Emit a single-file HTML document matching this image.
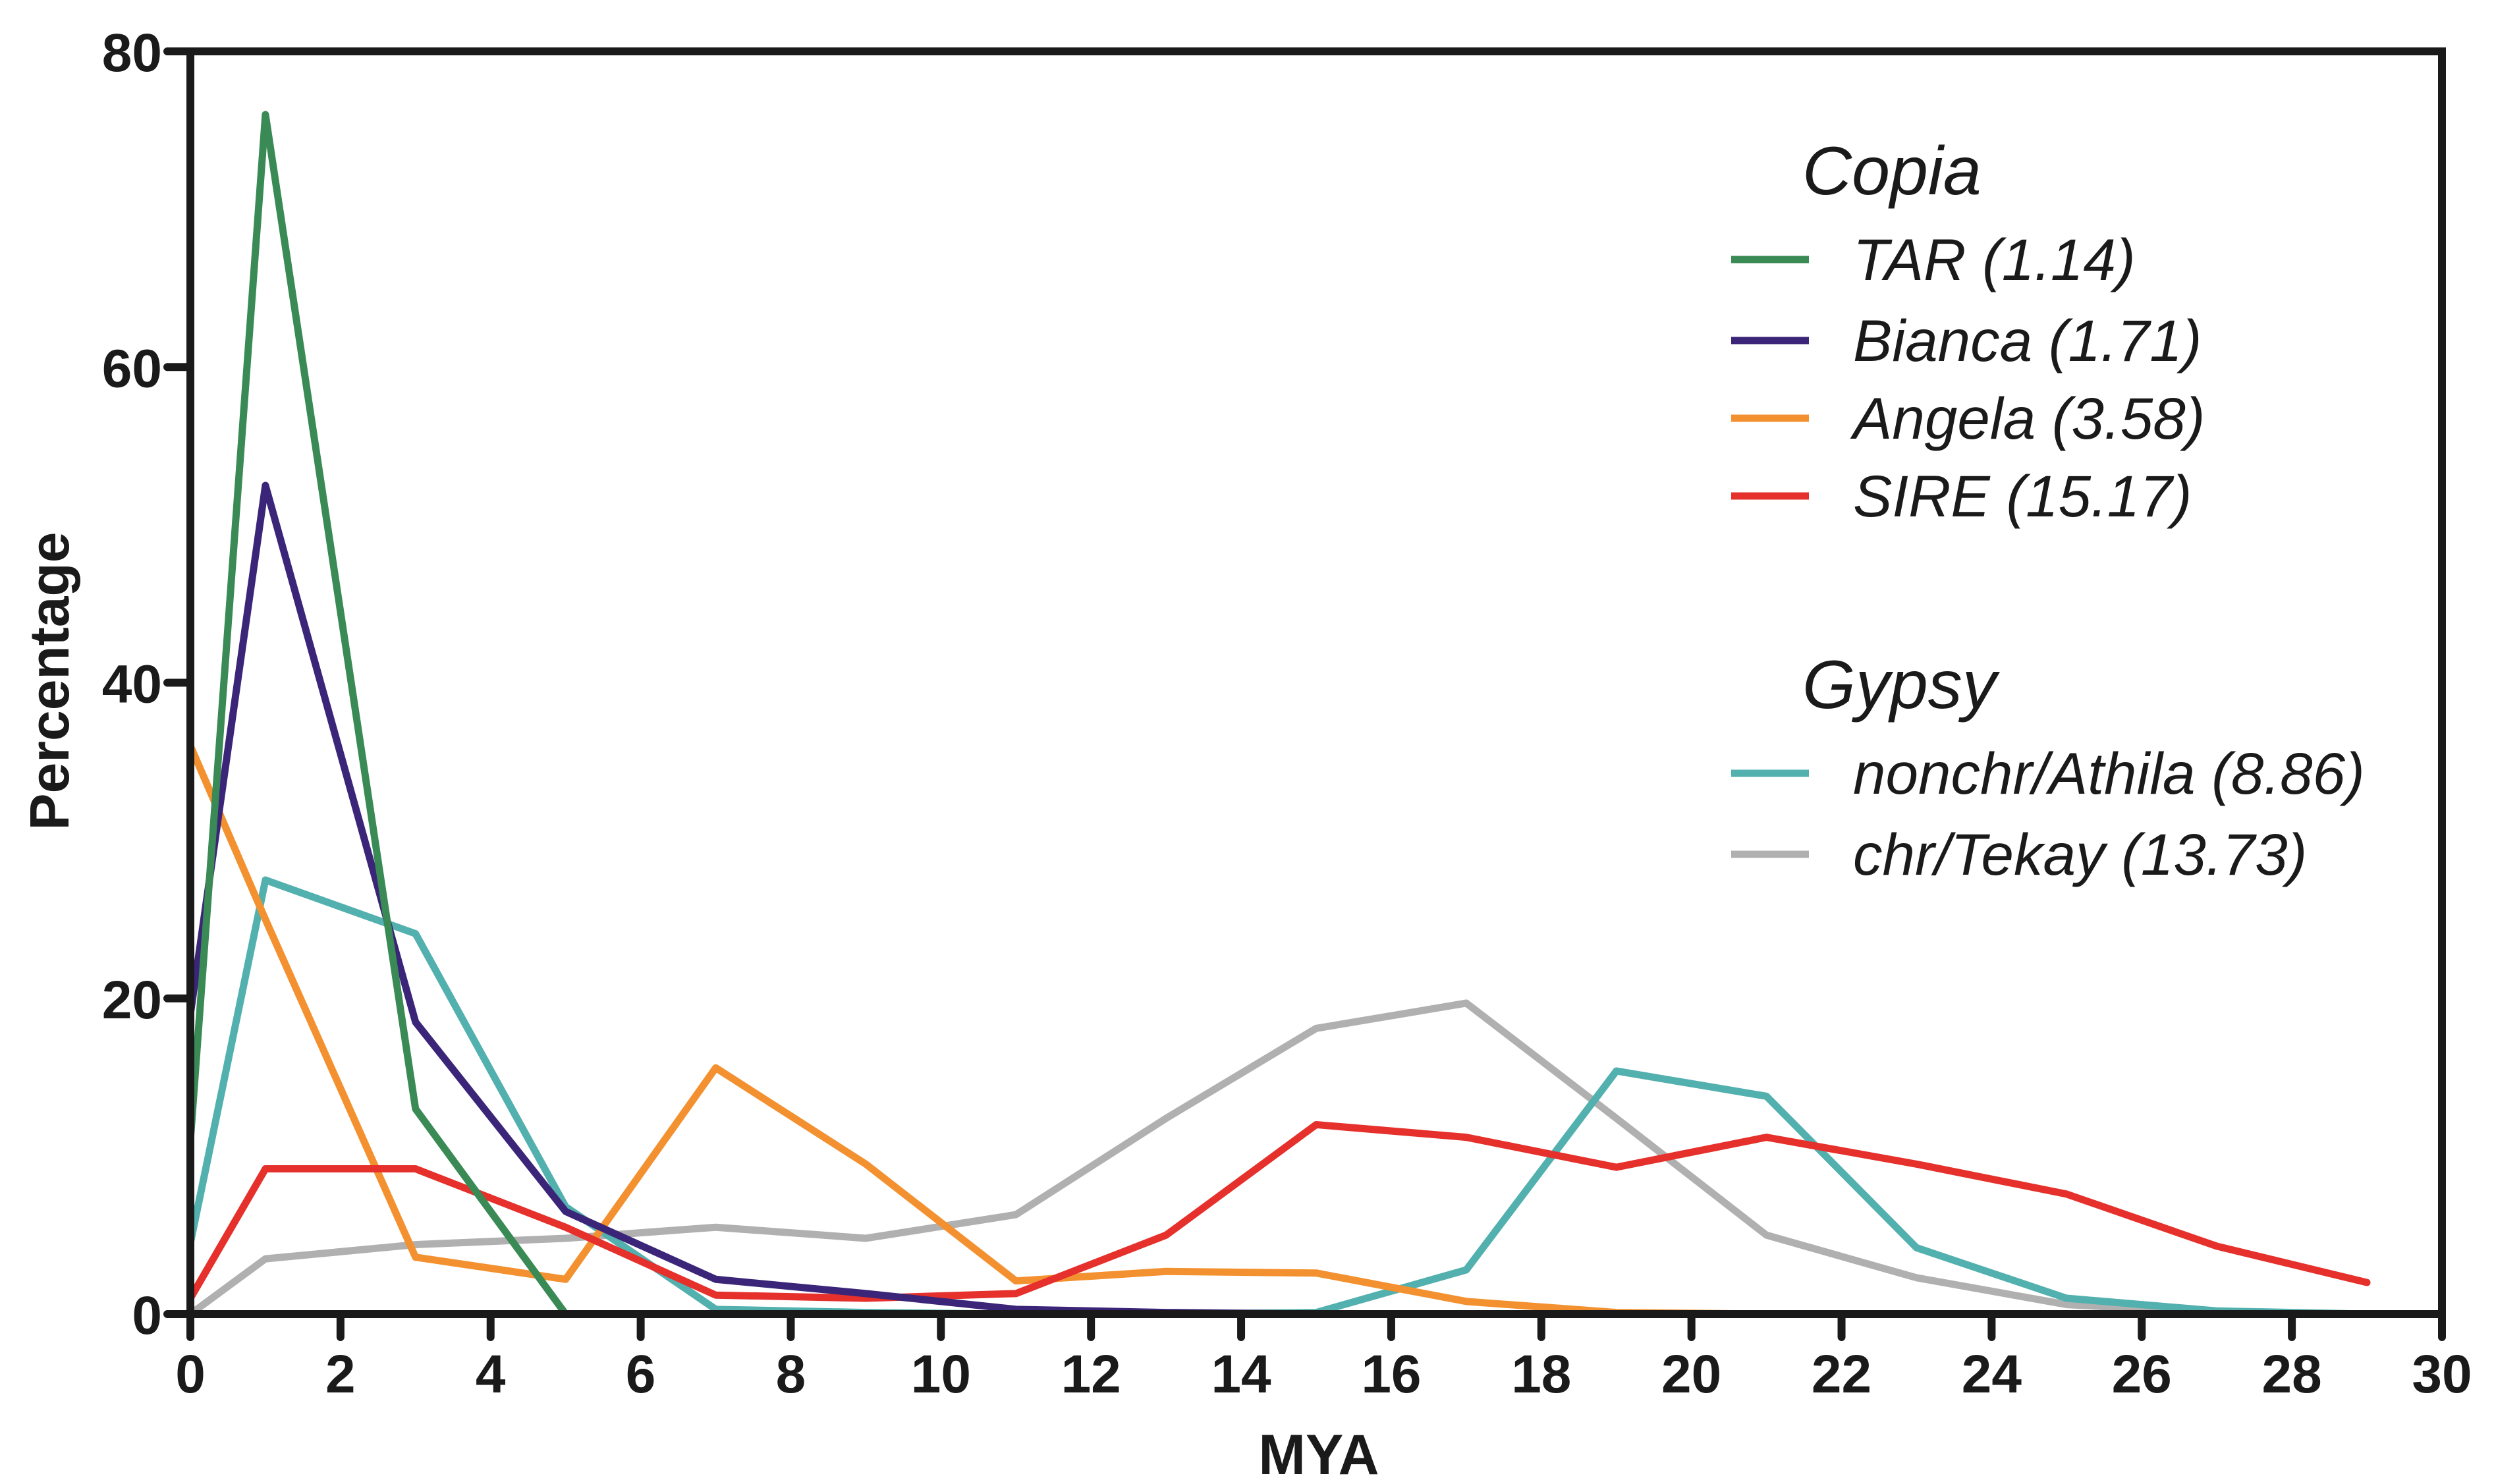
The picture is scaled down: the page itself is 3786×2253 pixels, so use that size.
<!DOCTYPE html>
<html><head><meta charset="utf-8"><style>
html,body{margin:0;padding:0;background:#fff;}
svg{display:block;font-family:"Liberation Sans",Arial,sans-serif;}
</style></head><body>
<svg id="chart" width="3786" height="2253" viewBox="0 0 3786 2253" xmlns="http://www.w3.org/2000/svg">
<g id="series"></g>
<g id="axes"></g>
<text transform="translate(104,1034) rotate(-90)" text-anchor="middle" font-weight="bold" font-size="84" fill="#1a1a1a">Percentage</text>
<text x="2002" y="2238" text-anchor="middle" font-weight="bold" font-size="86" fill="#1a1a1a">MYA</text>
<g id="legend"></g>
</svg>
<script>
const xs = [0,1,3,5,7,9,11,13,15,17,19,21,23,25,27,29];
const tar    = [11,76,13,0,0,0,0,0,0,0,0,0,0,0,0,0];
const bianca = [19,52.5,18.5,6.5,2.2,1.3,0.3,0.1,0,0,0,0,0,0,0,0];
const angela = [36,25,3.6,2.2,15.6,9.5,2.1,2.7,2.6,0.8,0.1,0,0,0,0,0];
const sire   = [1,9.2,9.2,5.5,1.2,1,1.3,5,12,11.2,9.3,11.2,9.5,7.6,4.3,2];
const athila = [4.5,27.5,24.1,6.8,0.3,0.1,0,0,0.1,2.8,15.4,13.8,4.2,1,0.2,0];
const tekay  = [0,3.5,4.4,4.8,5.5,4.8,6.3,12.4,18.1,19.7,12.4,5,2.3,0.6,0.1,0];
const xTicks = [0,2,4,6,8,10,12,14,16,18,20,22,24,26,28,30];
const yTicks = [0,20,40,60,80];
const seriesNames = ["TAR (1.14)","Bianca (1.71)","Angela (3.58)","SIRE (15.17)","nonchr/Athila (8.86)","chr/Tekay (13.73)"];

const NS="http://www.w3.org/2000/svg";
const X0=289,X1=3707,Y0=1995,Y1=78;
const sx=v=>X0+(v/30)*(X1-X0);
const sy=v=>Y0-(v/80)*(Y0-Y1);
function mk(tag,attrs,parent){const e=document.createElementNS(NS,tag);for(const k in attrs)e.setAttribute(k,attrs[k]);parent.appendChild(e);return e;}

const series=[
 {d:tekay,c:"#b0b0b0",n:"series-tekay"},
 {d:athila,c:"#52b0ae",n:"series-athila"},
 {d:angela,c:"#f39130",n:"series-angela"},
 {d:sire,c:"#e5302b",n:"series-sire"},
 {d:bianca,c:"#3b2578",n:"series-bianca"},
 {d:tar,c:"#3a8a55",n:"series-tar"}
];
const sg=document.getElementById('series');
series.forEach(s=>{
  const p=mk('polyline',{points:xs.map((x,i)=>sx(x)+','+sy(s.d[i])).join(' '),fill:'none',stroke:s.c,'stroke-width':11,'stroke-linejoin':'round','stroke-linecap':'round'},sg);
  
  
});

const ag=document.getElementById('axes');
const frame=mk('rect',{x:X0,y:Y1,width:X1-X0,height:Y0-Y1,fill:'none',stroke:'#1a1a1a','stroke-width':12},ag);


xTicks.forEach(t=>{
  const l=mk('line',{x1:sx(t),x2:sx(t),y1:Y0,y2:Y0+35,stroke:'#1a1a1a','stroke-width':12,'stroke-linecap':'round'},ag);
  
  
  const tx=mk('text',{x:sx(t),y:2114,'text-anchor':'middle','font-size':82,'font-weight':'bold',fill:'#1a1a1a'},ag);
  tx.textContent=t;
  
  
});
yTicks.forEach(t=>{
  const l=mk('line',{x1:X0-35,x2:X0,y1:sy(t),y2:sy(t),stroke:'#1a1a1a','stroke-width':12,'stroke-linecap':'round'},ag);
  
  
  const tx=mk('text',{x:246,y:sy(t)+30,'text-anchor':'end','font-size':82,'font-weight':'bold',fill:'#1a1a1a'},ag);
  tx.textContent=t;
  
  
});

const lg=document.getElementById('legend');
[["Copia",295],["Gypsy",1075]].forEach(h=>{
  const t=mk('text',{x:2736,y:h[1],'font-size':104,'font-style':'italic',fill:'#1a1a1a'},lg);
  t.textContent=h[0];
  
  
});
const legColors=["#3a8a55","#3b2578","#f39130","#e5302b","#52b0ae","#b0b0b0"];
const legY=[394,517,635,753,1174,1297];
seriesNames.forEach((nm,i)=>{
  const l=mk('line',{x1:2628,x2:2746,y1:legY[i],y2:legY[i],stroke:legColors[i],'stroke-width':11},lg);
  
  
  const t=mk('text',{x:2813,y:legY[i]+31,'font-size':89,'font-style':'italic',fill:'#1a1a1a'},lg);
  t.textContent=nm;
  
  
});
</script>
</body></html>
